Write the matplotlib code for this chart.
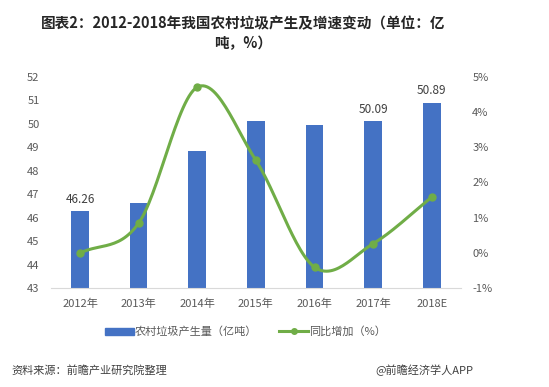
import numpy as np
import matplotlib
matplotlib.use("Agg")
import matplotlib.pyplot as plt
from matplotlib.lines import Line2D
from matplotlib.patches import Patch

plt.rcParams['font.family'] = ['Noto Sans CJK SC', 'DejaVu Sans']

categories = ["2012年", "2013年", "2014年", "2015年", "2016年", "2017年", "2018E"]
volume = [46.26, 46.63, 48.84, 50.10, 49.94, 50.09, 50.89]
growth = [-0.01, 0.84, 4.70, 2.62, -0.41, 0.26, 1.58]
labeled = {0: "46.26", 5: "50.09", 6: "50.89"}
left_ticks = list(range(43, 53))
right_ticks = list(range(-1, 6))

BAR = "#4472C4"
GREEN = "#70AD47"
TXT = "#595959"

fig = plt.figure(figsize=(5.49, 3.87), dpi=100)
ax = fig.add_axes([0.0923, 0.2558, 0.7477, 0.5464])
x = np.arange(len(categories))
ax.bar(x, [v - 43 for v in volume], bottom=43, width=0.3, color=BAR, zorder=2)
ax.set_ylim(43, 52)
ax.set_xlim(-0.5, len(categories) - 0.5)
ax.set_yticks(left_ticks)
ax.set_yticklabels([str(t) for t in left_ticks])
ax.set_xticks(x)
ax.set_xticklabels(categories)
for s in ["top", "right", "left"]:
    ax.spines[s].set_visible(False)
ax.spines["bottom"].set_color("#D9D9D9")
ax.tick_params(axis="both", length=0, colors=TXT, labelsize=8)
ax.tick_params(axis="x", pad=8)
ax.tick_params(axis="y", pad=8)
for i, t in labeled.items():
    ax.text(x[i], volume[i] + 0.25, t, ha="center", va="bottom", fontsize=8.5, color="#404040")

ax2 = ax.twinx()
ax2.set_ylim(-1, 5)
ax2.set_yticks(right_ticks)
ax2.set_yticklabels([f"{t}%" for t in right_ticks])
for s in ["top", "right", "left", "bottom"]:
    ax2.spines[s].set_visible(False)
ax2.tick_params(axis="y", length=0, colors=TXT, labelsize=8, pad=8)

# smooth (Catmull-Rom) rendering of the growth line
pts = np.column_stack([x, growth]).astype(float)
P = np.vstack([pts[0] - (pts[1] - pts[0]), pts, pts[-1] + (pts[-1] - pts[-2])])
curve = []
for i in range(1, len(P) - 2):
    p0, p1, p2, p3 = P[i - 1], P[i], P[i + 1], P[i + 2]
    tt = np.linspace(0, 1, 30)[:, None]
    seg = 0.5 * ((2 * p1) + (-p0 + p2) * tt + (2 * p0 - 5 * p1 + 4 * p2 - p3) * tt ** 2
                 + (-p0 + 3 * p1 - 3 * p2 + p3) * tt ** 3)
    curve.append(seg)
curve = np.vstack(curve)
ax2.plot(curve[:, 0], curve[:, 1], color=GREEN, lw=2.2, zorder=3, solid_capstyle="round")
ax2.plot(x, growth, "o", color=GREEN, ms=5, zorder=4)

fig.text(0.443, 0.94, "图表2：2012-2018年我国农村垃圾产生及增速变动（单位：亿", ha="center", va="center",
         fontsize=10.5, fontweight="bold", color="#262626")
fig.text(0.443, 0.888, "吨，%）", ha="center", va="center", fontsize=10.5, fontweight="bold", color="#262626")

handles = [Patch(color=BAR), Line2D([0], [0], color=GREEN, lw=2.2, marker="o", ms=4)]
fig.legend(handles, ["农村垃圾产生量（亿吨）", "同比增加（%）"], loc="center", bbox_to_anchor=(0.447, 0.143),
           ncol=2, frameon=False, fontsize=8, handlelength=2.6, handleheight=0.6, columnspacing=2.0,
           handletextpad=0.1, labelcolor=TXT)

fig.text(0.02, 0.043, "资料来源：前瞻产业研究院整理", ha="left", va="center", fontsize=8, style="italic", color="#404040")
fig.text(0.862, 0.043, "@前瞻经济学人APP", ha="right", va="center", fontsize=8, color="#404040")

fig.savefig("out.png", dpi=100, facecolor="white")
